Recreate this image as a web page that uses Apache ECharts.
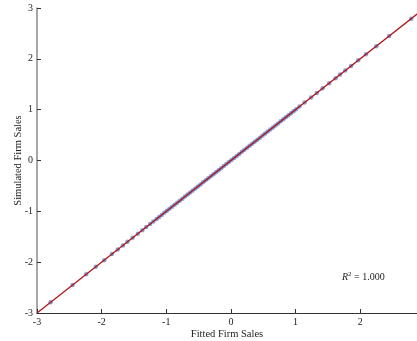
<!DOCTYPE html>
<html>
<head>
<meta charset="utf-8">
<script src="https://cdn.jsdelivr.net/npm/echarts@6/dist/echarts.min.js"></script>
<style>
  html, body { margin: 0; padding: 0; background: #fff; }
  #chart { width: 417px; height: 341px; }
</style>
</head>
<body>
<div id="chart"></div>
<script>
// fitted vs simulated firm sales
var fitted = [-2.79, -2.45, -2.24, -2.09, -1.96, -1.84, -1.75, -1.67, -1.60, -1.52, -1.44, -1.37,
  -1.31, -1.25, -1.20, -1.15, -1.11, -1.07, -1.03, -0.99, -0.95, -0.91, -0.87, -0.83, -0.79,
  -0.75, -0.71, -0.67, -0.63, -0.59, -0.55, -0.51, -0.47, -0.43, -0.39, -0.35, -0.31, -0.27,
  -0.23, -0.19, -0.15, -0.11, -0.07, -0.03, 0.01, 0.05, 0.09, 0.13, 0.17, 0.21, 0.25, 0.29,
  0.33, 0.37, 0.41, 0.45, 0.49, 0.53, 0.57, 0.61, 0.65, 0.69, 0.73, 0.77, 0.81, 0.85, 0.89,
  0.93, 0.97, 1.01, 1.06, 1.14, 1.24, 1.33, 1.42, 1.52, 1.62, 1.69, 1.77, 1.86, 1.97, 2.09,
  2.25, 2.45, 2.79];
var simulated = [-2.79, -2.45, -2.24, -2.09, -1.96, -1.84, -1.75, -1.67, -1.60, -1.52, -1.44, -1.37,
  -1.31, -1.25, -1.20, -1.15, -1.11, -1.07, -1.03, -0.99, -0.95, -0.91, -0.87, -0.83, -0.79,
  -0.75, -0.71, -0.67, -0.63, -0.59, -0.55, -0.51, -0.47, -0.43, -0.39, -0.35, -0.31, -0.27,
  -0.23, -0.19, -0.15, -0.11, -0.07, -0.03, 0.01, 0.05, 0.09, 0.13, 0.17, 0.21, 0.25, 0.29,
  0.33, 0.37, 0.41, 0.45, 0.49, 0.53, 0.57, 0.61, 0.65, 0.69, 0.73, 0.77, 0.81, 0.85, 0.89,
  0.93, 0.97, 1.01, 1.06, 1.14, 1.24, 1.33, 1.42, 1.52, 1.62, 1.69, 1.77, 1.86, 1.97, 2.09,
  2.25, 2.45, 2.79];
// 45 degree reference line
var fitLine = [[-3, -3], [3, 3]];
var rSquared = '1.000';

var points = fitted.map(function (v, i) { return [v, simulated[i]]; });
var font = 'Liberation Serif';

var chart = echarts.init(document.getElementById('chart'));
var option = {
  animation: false,
  textStyle: { fontFamily: font },
  grid: { left: 37, right: 0, top: 8, bottom: 28, containLabel: false, outerBoundsMode: 'none' },
  title: {
    text: '{i|R}{s|2} = ' + rSquared,
    left: 337,
    top: 266,
    textStyle: {
      fontFamily: font, fontSize: 10, fontWeight: 'normal', color: '#222',
      rich: {
        i: { fontFamily: font, fontSize: 10, fontStyle: 'italic', color: '#222' },
        s: { fontFamily: font, fontSize: 7, verticalAlign: 'bottom', padding: [0, 0, 6, 0], color: '#222' }
      }
    }
  },
  xAxis: {
    type: 'value',
    min: -3,
    max: 2.88,
    interval: 1,
    name: 'Fitted Firm Sales',
    nameLocation: 'middle',
    nameGap: 16,
    nameMoveOverlap: false,
    nameTextStyle: { fontFamily: font, fontSize: 10.5, color: '#222' },
    axisLine: { onZero: false, lineStyle: { color: '#333', width: 1 } },
    axisTick: { inside: true, length: 4, lineStyle: { color: '#333' } },
    axisLabel: { fontFamily: font, fontSize: 10, color: '#222', margin: 4, showMaxLabel: false },
    splitLine: { show: false }
  },
  yAxis: {
    type: 'value',
    min: -3,
    max: 3,
    interval: 1,
    name: 'Simulated Firm Sales',
    nameLocation: 'middle',
    nameGap: 13,
    nameMoveOverlap: false,
    nameTextStyle: { fontFamily: font, fontSize: 10.5, color: '#222' },
    axisLine: { onZero: false, lineStyle: { color: '#888', width: 1.5 } },
    axisTick: { inside: true, length: 4, lineStyle: { color: '#333' } },
    axisLabel: { fontFamily: font, fontSize: 10, color: '#222', margin: 4 },
    splitLine: { show: false }
  },
  series: [
    {
      type: 'scatter',
      data: points,
      symbolSize: 4.5,
      itemStyle: { color: 'rgba(70,110,190,0.8)' }
    },
    {
      type: 'line',
      data: fitLine,
      symbol: 'none',
      clip: true,
      lineStyle: { color: '#b0161c', width: 1.3 }
    }
  ]
};
option && chart.setOption(option);
</script>
</body>
</html>
